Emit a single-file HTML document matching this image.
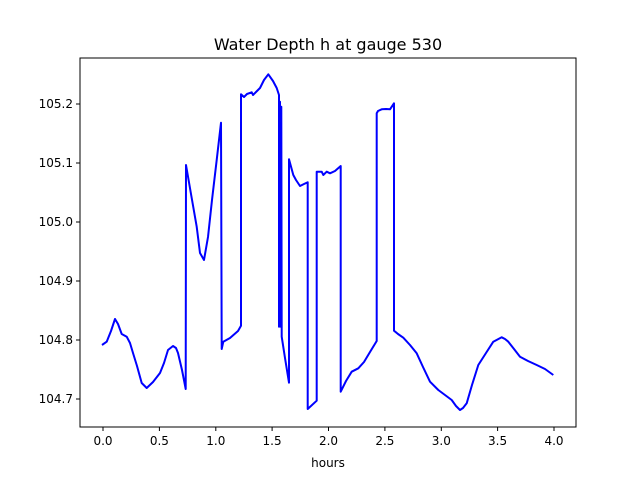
<!DOCTYPE html>
<html><head><meta charset="utf-8"><style>body{margin:0;background:#fff}svg{display:block;font-family:"DejaVu Sans","Liberation Sans",sans-serif}</style></head><body>
<svg width="640" height="480" viewBox="0 0 640 480" xmlns="http://www.w3.org/2000/svg">
<rect width="640" height="480" fill="#fff"/>
<text x="328" y="50" font-size="16" text-anchor="middle">Water Depth h at gauge 530</text>
<polyline fill="none" stroke="#0000ff" stroke-width="2" stroke-linejoin="round" points="102,345 106.7,341.7 111,331 115,319 118,324 121.7,334 126.7,336.7 130,343 133,353 137,366 141.7,383 146.7,388 153,382 160,373 164,363 168,350 173,346 176,348 178,353 182,370 185.7,389 186,165 191,194 196.7,226.7 200,253 204,260 208,237 212,200 216.7,160 221,122.7 221.7,349 223.3,341.7 230,338 238,331 241,325.7 241,94.3 244,97 247,94 251.7,92.3 253,95 256,92 260,88 264,80 268.3,74.3 273,81 276.7,88 279,95 279,326.7 280,101.7 280.7,326.7 281.3,106.7 281.7,336.7 285,358 289,382.7 289,159.3 293.3,175 296,180 300,186 304,184 307.7,182.3 307.7,409 316.7,400.7 316.7,171.7 321.7,171.7 323.3,175 326.7,171.7 330,173.3 335,171 340.7,166 340.7,391.7 346,381 351.7,371.7 358.3,368.3 364,362 370,352 376.7,341 376.7,113.3 378,111 381.7,109.3 386,109 390,109.3 394,103.3 394,330.7 398,334 403.3,337.7 410,345 416.7,353.3 423,367 430,381.7 438.3,390 445,395 451.7,400 456,406 460,410 463,408 466.7,403.3 472,385 478.3,365 486,353 493.3,341.7 501.7,337.3 505,339 508.3,341.7 514,349 520,356.7 528,361 536.7,365 545,369 553.3,375"/>
<rect x="80" y="58" width="496" height="369" fill="none" stroke="#000" stroke-width="1"/>
<g stroke="#000" stroke-width="1">
<line x1="103" y1="427" x2="103" y2="431"/><line x1="159.4" y1="427" x2="159.4" y2="431"/><line x1="215.8" y1="427" x2="215.8" y2="431"/><line x1="272.1" y1="427" x2="272.1" y2="431"/><line x1="328.5" y1="427" x2="328.5" y2="431"/><line x1="384.9" y1="427" x2="384.9" y2="431"/><line x1="441.3" y1="427" x2="441.3" y2="431"/><line x1="497.6" y1="427" x2="497.6" y2="431"/><line x1="554" y1="427" x2="554" y2="431"/>
<line x1="76" y1="104" x2="80" y2="104"/><line x1="76" y1="163" x2="80" y2="163"/><line x1="76" y1="222" x2="80" y2="222"/><line x1="76" y1="281" x2="80" y2="281"/><line x1="76" y1="340" x2="80" y2="340"/><line x1="76" y1="399" x2="80" y2="399"/>
</g>
<g font-size="12" text-anchor="middle">
<text x="103" y="445">0.0</text><text x="159.4" y="445">0.5</text><text x="215.8" y="445">1.0</text><text x="272.1" y="445">1.5</text><text x="328.5" y="445">2.0</text><text x="384.9" y="445">2.5</text><text x="441.3" y="445">3.0</text><text x="497.6" y="445">3.5</text><text x="554" y="445">4.0</text>
<text x="328" y="467">hours</text>
</g>
<g font-size="12" text-anchor="end">
<text x="73" y="108">105.2</text><text x="73" y="167">105.1</text><text x="73" y="226">105.0</text><text x="73" y="285">104.9</text><text x="73" y="344">104.8</text><text x="73" y="403">104.7</text>
</g>
</svg>
</body></html>
